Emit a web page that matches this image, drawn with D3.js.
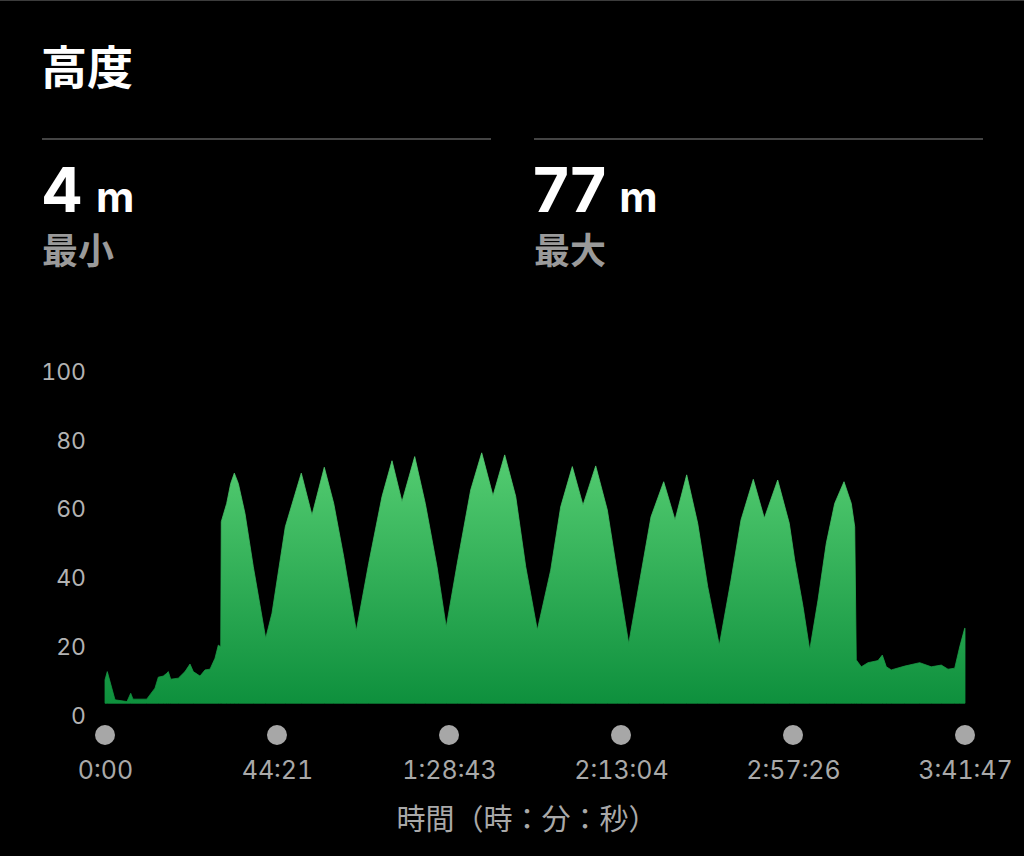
<!DOCTYPE html>
<html>
<head>
<meta charset="utf-8">
<script src="https://cdn.jsdelivr.net/npm/d3@7/dist/d3.min.js"></script>
<style>
  html, body { margin: 0; padding: 0; background: #000; }
  svg { display: block; }
  .num { font-feature-settings: "tnum"; font-variant-numeric: tabular-nums; }
</style>
</head>
<body>
<svg id="chart" width="1024" height="856"></svg>
<script>
// ---- data ----
const title = "高度";
const statValues = ["4", "77"];
const statUnits = ["m", "m"];
const statLabels = ["最小", "最大"];

// elapsed time (minutes)
const timesMin = [0, 0.59, 2.58, 5.67, 6.63, 7.22, 10.75, 12.89, 13.75, 15.03, 15.91, 16.32, 16.94, 18.90,
  20.63, 21.92, 22.77, 24.50, 25.79, 27.08, 28.37, 29.22, 29.84, 29.99, 31.38, 32.42, 33.35, 34.38,
  36.10, 38.24, 41.44, 43.07, 46.50, 50.62, 53.38, 56.55, 58.98, 61.56, 64.81, 68.01, 71.44, 74.01,
  76.59, 79.87, 82.60, 85.62, 88.00, 90.85, 94.31, 97.15, 100.06, 103.08, 105.92, 108.50, 111.49,
  114.94, 117.52, 120.51, 123.27, 126.55, 129.54, 132.12, 135.06, 137.79, 140.81, 144.08, 147.00,
  150.01, 152.85, 155.43, 158.42, 161.44, 164.02, 167.19, 170.03, 173.48, 176.47, 177.87, 180.01,
  181.74, 183.88, 186.01, 188.18, 190.58, 192.46, 193.34, 193.75, 195.04, 196.77, 199.35, 200.46,
  201.49, 202.78, 206.23, 210.10, 213.09, 215.67, 217.40, 219.13, 220.42, 221.71];
// altitude (m)
const altitudes = [10.5, 12.9, 4.7, 4.2, 6.6, 4.9, 4.9, 8.1, 11.3, 11.6, 12.4, 12.9, 10.7, 11.0,
  12.9, 15.1, 12.9, 11.6, 13.4, 13.6, 16.8, 20.6, 20.1, 56.5, 61.8, 67.6, 70.6, 67.6,
  58.9, 43.4, 22.6, 29.9, 55.0, 70.6, 58.4, 72.3, 61.8, 46.3, 24.8, 44.4, 63.8, 74.2,
  62.3, 75.4, 61.8, 43.4, 25.9, 44.4, 65.7, 76.5, 64.0, 75.9, 63.8, 43.4, 25.0,
  42.4, 60.8, 72.5, 61.3, 72.7, 59.9, 41.5, 21.1, 38.6, 57.9, 68.1, 57.0,
  70.1, 56.0, 37.6, 20.6, 39.5, 57.0, 68.8, 57.5, 68.6, 56.0, 45.3, 31.8,
  19.2, 33.7, 50.2, 61.8, 68.1, 61.8, 55.0, 16.3, 14.3, 15.5, 16.1, 17.7,
  14.3, 13.4, 14.5, 15.5, 14.3, 14.8, 13.6, 13.9, 20.1, 25.5];

const totalSeconds = 13307;
const yTicks = [0, 20, 40, 60, 80, 100];
const xTickSeconds = [0, 2661, 5323, 7984, 10646, 13307];
const xTickLabels = ["0:00", "44:21", "1:28:43", "2:13:04", "2:57:26", "3:41:47"];
const xAxisTitle = "時間（時：分：秒）";
const areaFloor = 3.7;

// ---- layout ----
const svg = d3.select("#chart");
const latin = "Inter, 'Noto Sans', sans-serif";
const cjk = "'Noto Sans CJK JP', 'Noto Sans CJK SC', sans-serif";

svg.append("rect").attr("width", 1024).attr("height", 856).attr("fill", "#000");
svg.append("line").attr("x1", 0).attr("x2", 1024).attr("y1", 0.5).attr("y2", 0.5)
  .attr("stroke", "#3c3c3c").attr("stroke-width", 1);

svg.append("text").text(title)
  .attr("x", 41).attr("y", 84)
  .attr("font-family", cjk).attr("font-weight", 700).attr("font-size", 46)
  .attr("fill", "#fff");

const cols = [42, 534];
cols.forEach((cx, i) => {
  svg.append("line").attr("x1", cx).attr("x2", cx + 449)
    .attr("y1", 139).attr("y2", 139)
    .attr("stroke", "#444").attr("stroke-width", 2);
  const t = svg.append("text").attr("x", cx - 1).attr("y", 212)
    .attr("font-family", latin).attr("font-weight", 700).attr("fill", "#fff");
  t.append("tspan").attr("font-size", 62).text(statValues[i]);
  t.append("tspan").attr("font-size", 42).attr("dx", 13).text(statUnits[i]);
  svg.append("text").text(statLabels[i])
    .attr("x", cx).attr("y", 264)
    .attr("font-family", cjk).attr("font-weight", 700).attr("font-size", 36)
    .attr("fill", "#9a9a9a");
});

// ---- scales ----
const x = d3.scaleLinear().domain([0, totalSeconds]).range([105, 965]);
const y = d3.scaleLinear().domain([0, 100]).range([716, 372]);

const data = timesMin.map((m, i) => ({ t: m * 60, v: altitudes[i] }));
data.push({ t: totalSeconds, v: altitudes[altitudes.length - 1] });

// gradient
const defs = svg.append("defs");
const grad = defs.append("linearGradient").attr("id", "g")
  .attr("gradientUnits", "userSpaceOnUse")
  .attr("x1", 0).attr("x2", 0).attr("y1", y(80)).attr("y2", y(areaFloor));
grad.append("stop").attr("offset", "0%").attr("stop-color", "#58d074");
grad.append("stop").attr("offset", "100%").attr("stop-color", "#0e903d");

const area = d3.area()
  .x(d => x(d.t))
  .y0(y(areaFloor))
  .y1(d => y(d.v))
  .curve(d3.curveLinear);

svg.append("path").datum(data).attr("d", area).attr("fill", "url(#g)")
  .attr("stroke", "url(#g)").attr("stroke-width", 0.8).attr("stroke-linejoin", "round");

// y axis
const yAxis = svg.append("g").attr("transform", "translate(86,0)")
  .call(d3.axisLeft(y).tickValues(yTicks).tickSize(0).tickPadding(0));
yAxis.select(".domain").remove();
yAxis.selectAll("text").attr("class", "num").attr("font-family", latin).attr("font-size", 23)
  .attr("fill", "#b3b3b3");

// x axis dots
svg.append("g").selectAll("circle").data(xTickSeconds).join("circle")
  .attr("cx", d => x(d)).attr("cy", 735).attr("r", 10).attr("fill", "#a7a7a7");

const xAxis = svg.append("g").attr("transform", "translate(0,761)")
  .call(d3.axisBottom(x).tickValues(xTickSeconds).tickSize(0).tickPadding(0)
    .tickFormat((d, i) => xTickLabels[i]));
xAxis.select(".domain").remove();
xAxis.selectAll("text").attr("class", "num").attr("font-family", latin).attr("font-size", 25)
  .attr("fill", "#a9a9a9");

svg.append("text").text(xAxisTitle)
  .attr("x", 527).attr("y", 830).attr("text-anchor", "middle")
  .attr("font-family", cjk).attr("font-size", 29).attr("fill", "#a9a9a9");
</script>
</body>
</html>
